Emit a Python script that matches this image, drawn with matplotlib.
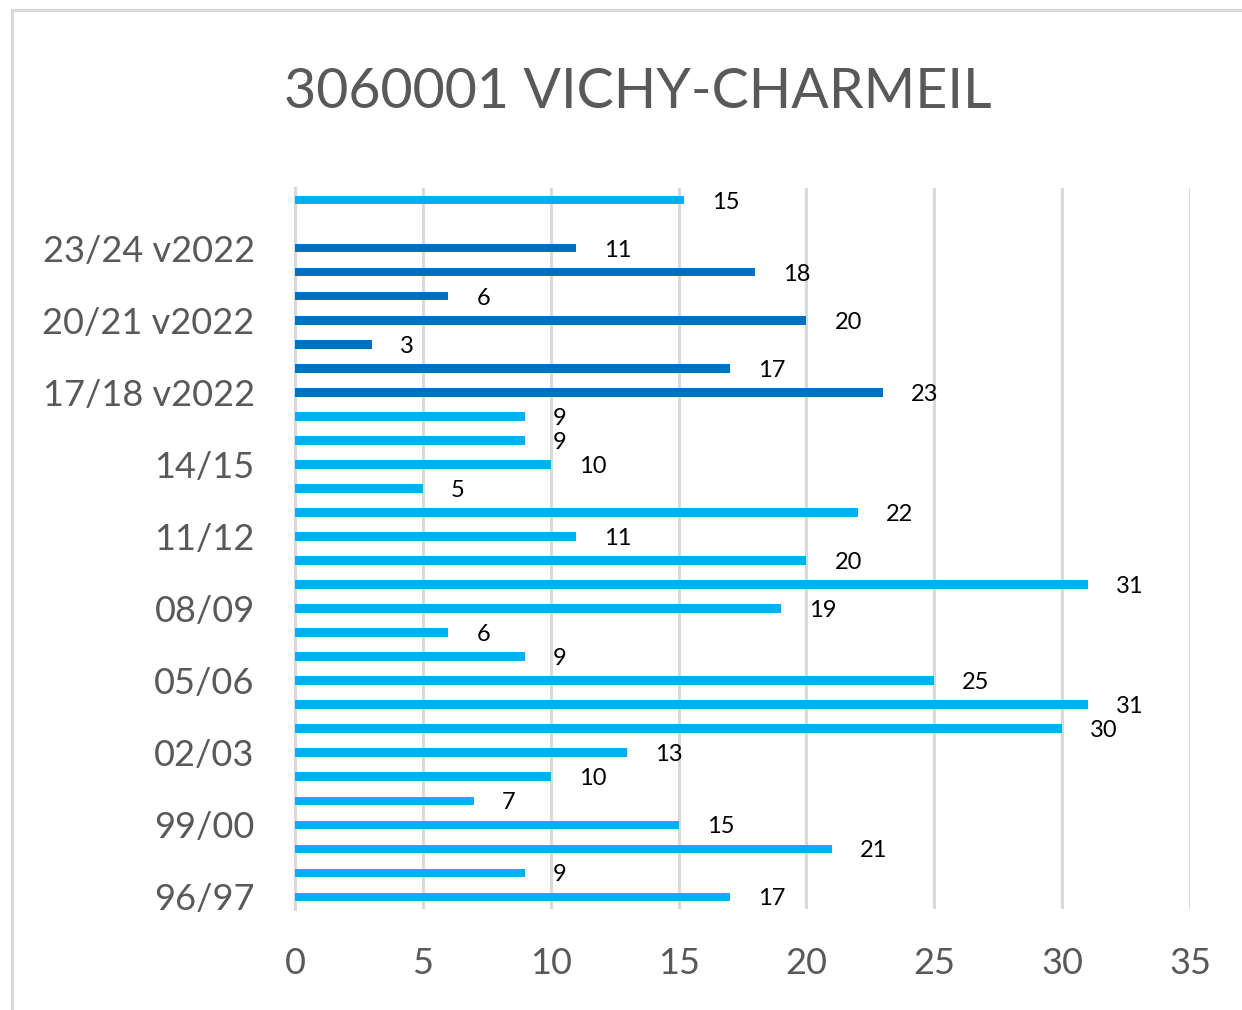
import matplotlib
matplotlib.use("Agg")
import matplotlib.pyplot as plt
from matplotlib.patches import Rectangle

categories = ["96/97", "97/98", "98/99", "99/00", "00/01", "01/02", "02/03", "03/04",
              "04/05", "05/06", "06/07", "07/08", "08/09", "09/10", "10/11", "11/12",
              "12/13", "13/14", "14/15", "15/16", "16/17",
              "17/18 v2022", "18/19 v2022", "19/20 v2022", "20/21 v2022",
              "21/22 v2022", "22/23 v2022", "23/24 v2022", "24/25 v2022", "24/25"]
values = [17, 9, 21, 15, 7, 10, 13, 30, 31, 25, 9, 6, 19, 31, 20, 11, 22, 5, 10, 9, 9,
          23, 17, 3, 20, 6, 18, 11, None, 15.2]
light = "#00B0F0"
dark = "#0070C0"
title = "3060001 VICHY-CHARMEIL"

plt.rcParams['font.family'] = ['Lato', 'DejaVu Sans']

fig = plt.figure(figsize=(12.42, 10.10), dpi=100)
ax = fig.add_axes([295 / 1242, 1 - 909 / 1010, 895 / 1242, 721 / 1010])

for y, (c, v) in enumerate(zip(categories, values)):
    if v is None:
        continue
    col = dark if "v2022" in c else light
    ax.barh(y, v, height=0.36, color=col, zorder=3)
    ax.annotate(f"{v:.0f}", (v, y), xytext=(28, -2), textcoords="offset pixels",
                ha="left", va="center", fontsize=17, color="black", zorder=4)

ypos = list(range(len(categories)))
ax.set_xlim(0, 35)
ax.set_ylim(-0.5, len(categories) - 0.5)
ax.set_xticks(range(0, 36, 5))
ax.set_yticks(ypos[::3])
ax.set_yticklabels(categories[::3])
ax.tick_params(axis="both", length=0, labelsize=26, labelcolor="#595959")
ax.tick_params(axis="y", pad=29)
ax.tick_params(axis="x", pad=27)
ax.grid(axis="x", color="#D9D9D9", linewidth=2.2, zorder=0)
for s in ["top", "right", "bottom"]:
    ax.spines[s].set_visible(False)
ax.spines["left"].set_color("#D9D9D9")
ax.spines["left"].set_linewidth(2.2)

fig.text(0.5137, 0.908, title, ha="center", va="center", fontsize=40, color="#595959")
fig.patches.append(Rectangle((12 / 1242, -0.1), 1.1, 1.1 - 10 / 1010, transform=fig.transFigure,
                             fill=False, edgecolor="#D9D9D9", linewidth=2.2))

fig.savefig("out.png", dpi=100)
